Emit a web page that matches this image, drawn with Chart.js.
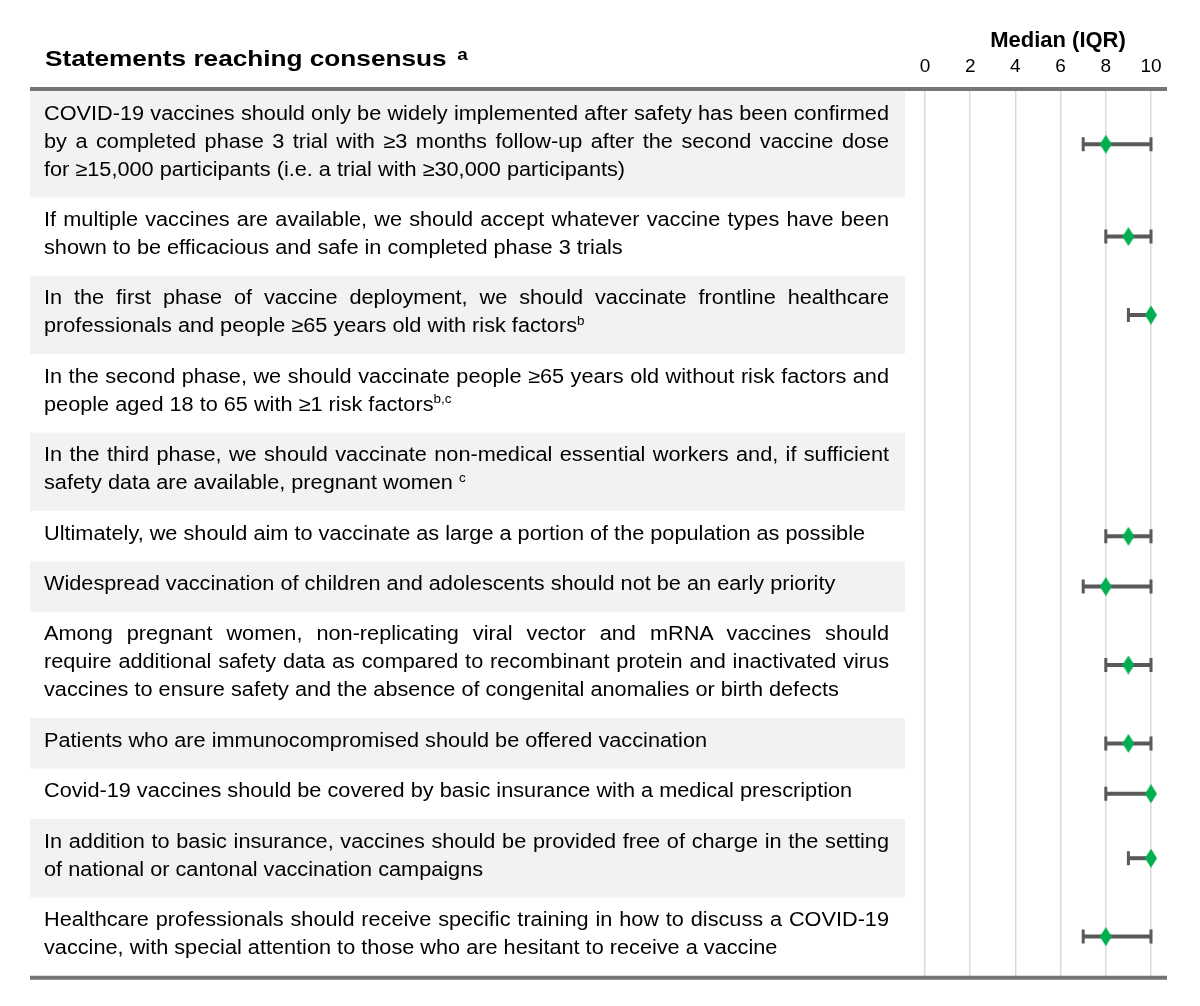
<!DOCTYPE html>
<html>
<head>
<meta charset="utf-8">
<script src="https://cdn.jsdelivr.net/npm/chart.js@4.4.1/dist/chart.umd.min.js"></script>
<style>
  html, body { margin: 0; padding: 0; background: #ffffff; }
  #wrap { position: relative; width: 1200px; height: 1006px; overflow: hidden;
          font-family: "Liberation Sans", Arial, Helvetica, sans-serif; color: #000; }
  #chart { position: absolute; left: 0; top: 0; z-index: 1; }
  .title { position: absolute; left: 45px; top: 48px; font-size: 22px; font-weight: bold; line-height: 22px;
           white-space: nowrap; z-index: 2; transform: scaleX(1.19); transform-origin: 0 0; }
  .title sup { font-size: 0.72em; margin-left: 9px; top: -0.37em; }
  .axisTitle { position: absolute; left: 958px; width: 200px; top: 29px; text-align: center; font-size: 22px;
               font-weight: bold; line-height: 22px; white-space: nowrap; z-index: 2; }
  .stmt { position: absolute; left: 44px; width: 778.8px; font-size: 20px; line-height: 28px; z-index: 2;
          transform: scaleX(1.085); transform-origin: 0 0; }
  .ln { white-space: nowrap; }
  .ln.j { text-align: justify; text-align-last: justify; }
  sup { font-size: 0.62em; line-height: 0; vertical-align: 0; position: relative; top: -0.6em; }
</style>
</head>
<body>
<div id="wrap">
  <canvas id="chart" width="1200" height="1006" style="width:1200px;height:1006px"></canvas>
  <div class="title">Statements reaching consensus<sup>a</sup></div>
  <div class="axisTitle">Median (IQR)</div>
</div>
<script>
// ---------------- data ----------------
const statements = [
  ["COVID-19 vaccines should only be widely implemented after safety has been confirmed",
   "by a completed phase 3 trial with ≥3 months follow-up after the second vaccine dose",
   "for ≥15,000 participants (i.e. a trial with ≥30,000 participants)"],
  ["If multiple vaccines are available, we should accept whatever vaccine types have been",
   "shown to be efficacious and safe in completed phase 3 trials"],
  ["In the first phase of vaccine deployment, we should vaccinate frontline healthcare",
   "professionals and people ≥65 years old with risk factors"],
  ["In the second phase, we should vaccinate people ≥65 years old without risk factors and",
   "people aged 18 to 65 with ≥1 risk factors"],
  ["In the third phase, we should vaccinate non-medical essential workers and, if sufficient",
   "safety data are available, pregnant women "],
  ["Ultimately, we should aim to vaccinate as large a portion of the population as possible"],
  ["Widespread vaccination of children and adolescents should not be an early priority"],
  ["Among pregnant women, non-replicating viral vector and mRNA vaccines should",
   "require additional safety data as compared to recombinant protein and inactivated virus",
   "vaccines to ensure safety and the absence of congenital anomalies or birth defects"],
  ["Patients who are immunocompromised should be offered vaccination"],
  ["Covid-19 vaccines should be covered by basic insurance with a medical prescription"],
  ["In addition to basic insurance, vaccines should be provided free of charge in the setting",
   "of national or cantonal vaccination campaigns"],
  ["Healthcare professionals should receive specific training in how to discuss a COVID-19",
   "vaccine, with special attention to those who are hesitant to receive a vaccine"]
];
const footnotes = ["", "", "b", "b,c", "c", "", "", "", "", "", "", ""];
const medians = [8, 9, 10, null, null, 9, 8, 9, 9, 10, 10, 8];
const iqrLow  = [7, 8, 9,  null, null, 8, 7, 8, 8, 8, 9, 7];
const iqrHigh = [10, 10, 10, null, null, 10, 10, 10, 10, 10, 10, 10];
const xTicks = [0, 2, 4, 6, 8, 10];

// ---------------- layout (row heights from number of text lines) ----------------
const LINE_H = 28, ROW_PAD = 22.4;
const rowHeights = statements.map(s => ROW_PAD + LINE_H * s.length);
const rowStart = [];
let acc = 0;
rowHeights.forEach(h => { rowStart.push(acc); acc += h; });
const totalRows = acc;
const rowCenter = rowStart.map((s, i) => s + rowHeights[i] / 2);

const TOP = 91, LEFT = 925, RIGHT_PAD = 49;

// ---------------- text rows (real text) ----------------
const wrap = document.getElementById('wrap');
const stmtDivs = statements.map((lines, i) => {
  const d = document.createElement('div');
  d.className = 'stmt';
  lines.forEach((t, k) => {
    const l = document.createElement('div');
    l.className = 'ln' + (k < lines.length - 1 ? ' j' : '');
    l.textContent = t;
    if (k === lines.length - 1 && footnotes[i]) {
      const s = document.createElement('sup');
      s.textContent = footnotes[i];
      l.appendChild(s);
    }
    d.appendChild(l);
  });
  wrap.appendChild(d);
  return d;
});

// diamond marker
function diamond(w, h, color) {
  const c = document.createElement('canvas');
  c.width = w; c.height = h;
  const g = c.getContext('2d');
  g.fillStyle = color;
  g.beginPath();
  g.moveTo(w / 2, 0); g.lineTo(w, h / 2); g.lineTo(w / 2, h); g.lineTo(0, h / 2);
  g.closePath(); g.fill();
  return c;
}
const marker = diamond(12, 19, '#00b050');

// ---------------- plugins ----------------
const tablePlugin = {
  id: 'tableRows',
  beforeDraw(chart) {
    const { ctx, scales: { y } } = chart;
    ctx.save();
    ctx.fillStyle = '#f2f2f2';
    rowStart.forEach((s, i) => {
      if (i % 2 === 0) {
        const y0 = y.getPixelForValue(s);
        const y1 = y.getPixelForValue(s + rowHeights[i]);
        ctx.fillRect(30, y0, 875, y1 - y0);
      }
    });
    ctx.restore();
    stmtDivs.forEach((d, i) => {
      d.style.top = (y.getPixelForValue(rowStart[i]) + 7.5) + 'px';
    });
  },
  afterDraw(chart) {
    const { ctx, chartArea } = chart;
    ctx.save();
    ctx.strokeStyle = '#767676';
    ctx.lineWidth = 4;
    ctx.beginPath();
    ctx.moveTo(30, chartArea.top - 2); ctx.lineTo(1167, chartArea.top - 2);
    ctx.moveTo(30, chartArea.bottom + 2); ctx.lineTo(1167, chartArea.bottom + 2);
    ctx.stroke();
    ctx.restore();
  }
};

const errorBarPlugin = {
  id: 'errorBars',
  beforeDatasetsDraw(chart) {
    const { ctx, scales: { x, y } } = chart;
    ctx.save();
    ctx.strokeStyle = '#595959';
    medians.forEach((m, i) => {
      if (m == null) return;
      const yy = y.getPixelForValue(rowCenter[i]);
      const x1 = x.getPixelForValue(iqrLow[i]);
      const x2 = x.getPixelForValue(iqrHigh[i]);
      ctx.lineWidth = 4;
      ctx.beginPath(); ctx.moveTo(x1, yy); ctx.lineTo(x2, yy); ctx.stroke();
      ctx.lineWidth = 3;
      ctx.beginPath();
      ctx.moveTo(x1, yy - 7); ctx.lineTo(x1, yy + 7);
      ctx.moveTo(x2, yy - 7); ctx.lineTo(x2, yy + 7);
      ctx.stroke();
    });
    ctx.restore();
  }
};

const points = [];
medians.forEach((m, i) => { if (m != null) points.push({ x: m, y: rowCenter[i] }); });

new Chart(document.getElementById('chart'), {
  type: 'scatter',
  data: {
    datasets: [{
      label: 'Median',
      data: points,
      pointStyle: marker,
      pointRadius: 10,
      clip: false
    }]
  },
  options: {
    responsive: false,
    animation: false,
    layout: { padding: { left: LEFT, right: RIGHT_PAD, top: 0, bottom: 1006 - TOP - totalRows } },
    plugins: { legend: { display: false }, tooltip: { enabled: false } },
    scales: {
      x: {
        type: 'linear',
        position: 'top',
        min: xTicks[0],
        max: xTicks[xTicks.length - 1],
        afterBuildTicks(scale) { scale.ticks = xTicks.map(v => ({ value: v })); },
        afterFit(scale) { scale.height = TOP; },
        grid: { color: '#d9d9d9', lineWidth: 1.5, drawTicks: false },
        border: { display: false },
        ticks: {
          padding: 13,
          color: '#000',
          maxRotation: 0,
          autoSkip: false,
          font: { family: '"Liberation Sans", Arial, sans-serif', size: 19 }
        }
      },
      y: {
        type: 'linear',
        display: false,
        reverse: true,
        min: 0,
        max: totalRows
      }
    }
  },
  plugins: [tablePlugin, errorBarPlugin]
});
</script>
</body>
</html>
